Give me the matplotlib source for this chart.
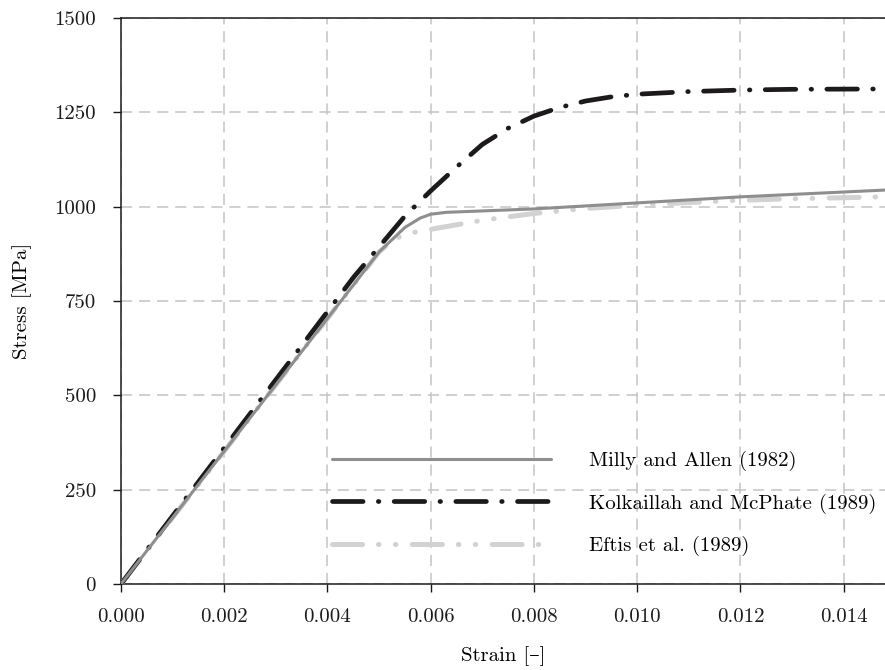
import numpy as np
import matplotlib
matplotlib.use("Agg")
import matplotlib.pyplot as plt

plt.rcParams['font.family'] = ['cmr10', 'DejaVu Serif']
plt.rcParams['mathtext.fontset'] = 'cm'
plt.rcParams['axes.formatter.use_mathtext'] = True
plt.rcParams['lines.scale_dashes'] = False

# Milly and Allen (1982)
strain_ma = [0.0, 0.0050, 0.0055, 0.0058, 0.0060, 0.0063, 0.0080, 0.0100, 0.0120, 0.0148]
stress_ma = [0.0, 880.0, 945.0, 970.0, 980.0, 985.0, 994.0, 1010.0, 1026.0, 1044.0]

# Kolkaillah and McPhate (1989)
strain_km = [0.0, 0.0045, 0.0055, 0.0060, 0.0065, 0.0070, 0.0075, 0.0080, 0.0085, 0.0090,
             0.0095, 0.0100, 0.0110, 0.0120, 0.0130, 0.0148]
stress_km = [0.0, 812.0, 975.0, 1042.0, 1105.0, 1165.0, 1208.0, 1240.0, 1263.0, 1280.0,
             1291.0, 1298.0, 1305.0, 1309.0, 1311.0, 1312.0]

# Eftis et al. (1989)
strain_ef = [0.0, 0.0050, 0.0053, 0.0056, 0.0060, 0.0065, 0.0070, 0.0080, 0.0090,
             0.0100, 0.0110, 0.0120, 0.0130, 0.0148]
stress_ef = [0.0, 880.0, 915.0, 930.0, 940.0, 952.0, 964.0, 982.0, 995.0,
             1004.0, 1011.0, 1017.0, 1021.0, 1026.0]

x_ticks = [0.000, 0.002, 0.004, 0.006, 0.008, 0.010, 0.012, 0.014]
y_ticks = [0, 250, 500, 750, 1000, 1250, 1500]

fig = plt.figure(figsize=(8.85, 6.7), dpi=100)
ax = fig.add_axes([121 / 885, 86 / 670, 764 / 885, 566 / 670])

ax.plot(strain_ma, stress_ma, color='#8e8e8e', lw=2.2, solid_capstyle='round',
        label='Milly and Allen (1982)', zorder=5)
ax.plot(strain_km, stress_km, color='#1c1a1b', lw=3.4, dash_capstyle='round',
        dashes=(22, 11, 0.4, 11), label='Kolkaillah and McPhate (1989)', zorder=4)
ax.plot(strain_ef, stress_ef, color='#d2d2d2', lw=3.6, dash_capstyle='round',
        dashes=(21.6, 11.5, 0.4, 11.8, 0.4, 11.8), label='Eftis et al. (1989)', zorder=3)

ax.set_xlim(0, 0.0148)
ax.set_ylim(0, 1500)
ax.set_xticks(x_ticks)
ax.set_xticklabels(['%.3f' % v for v in x_ticks])
ax.set_yticks(y_ticks)
ax.set_yticklabels([str(v) for v in y_ticks])
ax.tick_params(direction='out', length=6, width=1, labelsize=15, colors='#1c1a1b')
ax.tick_params(axis='x', pad=11)
ax.tick_params(axis='y', pad=12)

ax.grid(True, color='#c4c4c4', lw=1.1, dashes=(8, 5))
ax.set_axisbelow(True)
ax.spines['right'].set_visible(False)
for s in ('left', 'bottom', 'top'):
    ax.spines[s].set_linewidth(1.1)
    ax.spines[s].set_color('#1c1a1b')

ax.set_xlabel('Strain [–]', fontsize=15)
ax.set_ylabel('Stress [MPa]', fontsize=15)
ax.xaxis.set_label_coords(0.5, -0.11)
ax.yaxis.set_label_coords(-0.1165, 0.5)

ax.legend(loc='center left', bbox_to_anchor=(0.276, 0.142), frameon=False,
          fontsize=15, handlelength=10.5, handletextpad=1.85, labelspacing=1.08,
          borderpad=0, borderaxespad=0)

fig.savefig('out.png', dpi=100)
